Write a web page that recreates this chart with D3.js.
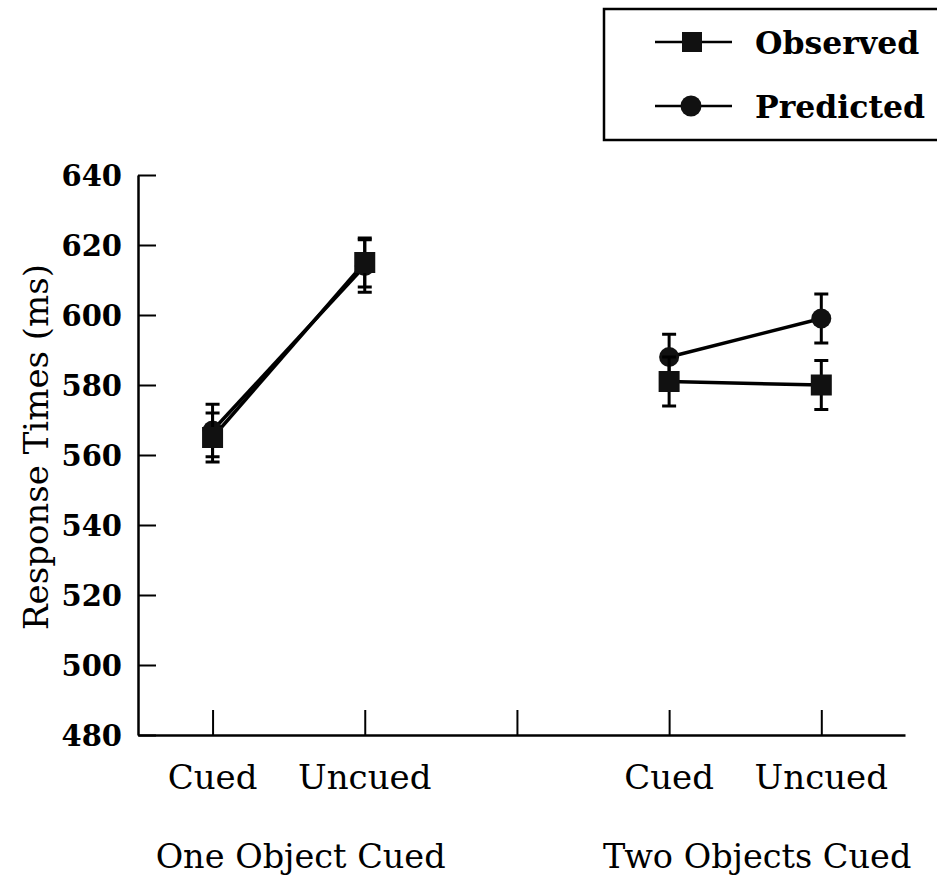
<!DOCTYPE html>
<html>
<head>
<meta charset="utf-8">
<script src="https://cdn.jsdelivr.net/npm/d3@7"></script>
<style>
  body { margin: 0; background: #fff; }
  svg { display: block; }
  text { font-family: "DejaVu Serif", serif; fill: #000; }
</style>
</head>
<body>
<script>
// DATA
const groups = ["One Object Cued", "Two Objects Cued"];
const conditions = ["Cued", "Uncued"];
const slots = [0, 1, 3, 4];              // x slot of each condition, slot 2 is the gap
const observed = [565, 615, 581, 580];
const observedErr = [7, 7, 7, 7];
const predicted = [567, 614, 588, 599];
const predictedErr = [7.5, 7.5, 6.5, 7];
const yTicks = [480, 500, 520, 540, 560, 580, 600, 620, 640];
const xTicks = [0, 1, 2, 3, 4];

// LAYOUT
const width = 937, height = 877;
const axisLeftX = 138, axisRightX = 905;
const axisTop = 175, axisBottom = 735;

const svg = d3.select("body").append("svg")
    .attr("width", width)
    .attr("height", height);

const y = d3.scaleLinear().domain([480, 640]).range([axisBottom, axisTop]);
const x = d3.scaleLinear().domain([-0.49, 4.55]).range([axisLeftX, axisRightX]);

// y axis, ticks pointing inward
const yAxis = svg.append("g")
    .attr("transform", `translate(${axisLeftX},0)`)
    .call(d3.axisLeft(y).tickValues(yTicks).tickSizeInner(-18).tickSizeOuter(0).tickPadding(16));
yAxis.select(".domain").attr("stroke-width", 2.5);
yAxis.selectAll(".tick line").attr("stroke-width", 2);
yAxis.selectAll(".tick text")
    .style("font-size", "29px")
    .style("font-weight", "bold")
    .attr("dy", "0.36em");

// x axis, ticks pointing up
const xAxis = svg.append("g")
    .attr("transform", `translate(0,${axisBottom})`)
    .call(d3.axisBottom(x).tickValues(xTicks).tickSizeInner(-25).tickSizeOuter(0).tickFormat(""));
xAxis.select(".domain").attr("stroke-width", 2.5);
xAxis.selectAll(".tick line").attr("stroke-width", 2);

// condition labels
svg.selectAll(".cond")
    .data(slots)
    .enter().append("text")
    .attr("class", "cond")
    .attr("x", d => x(d))
    .attr("y", 789)
    .attr("text-anchor", "middle")
    .style("font-size", "34px")
    .text((d, i) => conditions[i % 2]);

// group labels
svg.selectAll(".group")
    .data(groups)
    .enter().append("text")
    .attr("class", "group")
    .attr("x", (d, i) => x((slots[i * 2] + slots[i * 2 + 1]) / 2) + 12)
    .attr("y", 868)
    .attr("text-anchor", "middle")
    .style("font-size", "33.5px")
    .text(d => d);

// y axis title
svg.append("text")
    .attr("transform", `translate(48,447) rotate(-90)`)
    .attr("text-anchor", "middle")
    .style("font-size", "34px")
    .text("Response Times (ms)");

// lines, one segment per group
const series = [
    { name: "Predicted", values: predicted, err: predictedErr, shape: "circle" },
    { name: "Observed", values: observed, err: observedErr, shape: "square" }
];

const line = d3.line().x(d => x(d.slot)).y(d => y(d.v));

series.forEach(s => {
    const pts = s.values.map((v, i) => ({ slot: slots[i], v: v, e: s.err[i] }));
    [pts.slice(0, 2), pts.slice(2, 4)].forEach(seg => {
        svg.append("path")
            .datum(seg)
            .attr("d", line)
            .attr("fill", "none")
            .attr("stroke", "#000")
            .attr("stroke-width", 3.5);
    });

    // error bars
    const eb = svg.append("g");
    eb.selectAll("line.v")
        .data(pts).enter().append("line")
        .attr("x1", d => x(d.slot)).attr("x2", d => x(d.slot))
        .attr("y1", d => y(d.v - d.e)).attr("y2", d => y(d.v + d.e))
        .attr("stroke", "#000").attr("stroke-width", 3);
    eb.selectAll("line.top")
        .data(pts).enter().append("line")
        .attr("x1", d => x(d.slot) - 7).attr("x2", d => x(d.slot) + 7)
        .attr("y1", d => y(d.v + d.e)).attr("y2", d => y(d.v + d.e))
        .attr("stroke", "#000").attr("stroke-width", 3);
    eb.selectAll("line.bot")
        .data(pts).enter().append("line")
        .attr("x1", d => x(d.slot) - 7).attr("x2", d => x(d.slot) + 7)
        .attr("y1", d => y(d.v - d.e)).attr("y2", d => y(d.v - d.e))
        .attr("stroke", "#000").attr("stroke-width", 3);

    // markers
    if (s.shape === "circle") {
        svg.selectAll(null).data(pts).enter().append("circle")
            .attr("cx", d => x(d.slot)).attr("cy", d => y(d.v)).attr("r", 10)
            .attr("fill", "#111");
    } else {
        svg.selectAll(null).data(pts).enter().append("rect")
            .attr("x", d => x(d.slot) - 10.5).attr("y", d => y(d.v) - 10.5)
            .attr("width", 21).attr("height", 21)
            .attr("fill", "#111");
    }
});

// legend
const legend = svg.append("g");
legend.append("rect")
    .attr("x", 604).attr("y", 9)
    .attr("width", 345).attr("height", 131)
    .attr("fill", "none").attr("stroke", "#000").attr("stroke-width", 2.5);

const legendItems = [
    { name: "Observed", shape: "square", cy: 42 },
    { name: "Predicted", shape: "circle", cy: 106 }
];
legendItems.forEach(item => {
    legend.append("line")
        .attr("x1", 655).attr("x2", 732)
        .attr("y1", item.cy).attr("y2", item.cy)
        .attr("stroke", "#000").attr("stroke-width", 2.5);
    if (item.shape === "square") {
        legend.append("rect")
            .attr("x", 682).attr("y", item.cy - 10)
            .attr("width", 20).attr("height", 20).attr("fill", "#111");
    } else {
        legend.append("circle")
            .attr("cx", 691).attr("cy", item.cy).attr("r", 10.5).attr("fill", "#111");
    }
    legend.append("text")
        .attr("x", 755).attr("y", item.cy + 12)
        .style("font-size", "31.5px")
        .style("font-weight", "bold")
        .text(item.name);
});
</script>
</body>
</html>
